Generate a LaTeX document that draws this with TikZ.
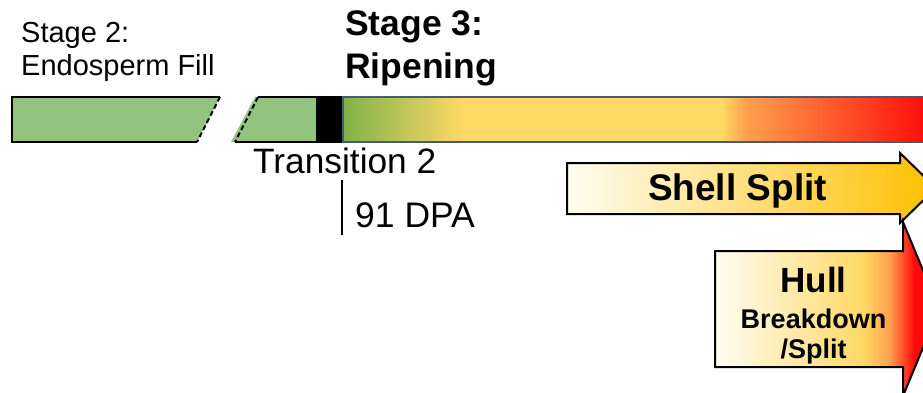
\documentclass[tikz,border=0pt]{standalone}
\usepackage{fontspec}
\setmainfont{Liberation Sans}
\definecolor{leaf}{HTML}{93C47F}
\definecolor{ripegreen}{HTML}{7FB24A}
\definecolor{ripeyellow}{HTML}{FFD966}
\definecolor{ripeorange}{HTML}{FFA04C}
\definecolor{ripered}{HTML}{FF0A0A}
\definecolor{gold}{HTML}{FFC000}
\definecolor{slate}{HTML}{4A5A70}
\definecolor{cream}{HTML}{FFFDF4}

% colour runs of the ripening bar and the hull arrow (middle 50bp spans the path)
\pgfdeclarehorizontalshading{ripen}{100bp}{color(0bp)=(ripegreen); color(25bp)=(ripegreen);
  color(35.3bp)=(ripeyellow); color(57.2bp)=(ripeyellow); color(59.3bp)=(ripeorange);
  color(75bp)=(ripered); color(100bp)=(ripered)}
\pgfdeclarehorizontalshading{hullrun}{100bp}{color(0bp)=(cream); color(25bp)=(cream);
  color(58bp)=(ripeyellow); color(64bp)=(ripeorange); color(69.5bp)=(ripered);
  color(75bp)=(ripered); color(100bp)=(ripered)}

\tikzset{
  px/.style={x=1pt,y=-1pt},
  barline/.style={line width=2pt,draw=black,line join=miter},
  cutline/.style={line width=2pt,draw=black,dash pattern=on 5pt off 3pt},
  label/.style={inner sep=0pt,anchor=base west},
  arrowbody/.style={line width=2pt,draw=black,line join=miter},
}
\newcommand{\fsz}[1]{\fontsize{#1}{#1}\selectfont}

\begin{document}
\begin{tikzpicture}[px]
\useasboundingbox (0,0) rectangle (923,392);
\clip (0,0) rectangle (923,392);

% stage 2 bar, cut on its right
\fill[leaf] (12,97) -- (220,97) -- (197,142) -- (12,142) -- cycle;
\draw[barline] (220,97) -- (12,97) -- (12,142) -- (197,142);
\draw[cutline] (220,97) -- (197,142);

% second piece of the stage 2 bar, cut on its left
\fill[leaf] (255,97) -- (317,97) -- (317,142) -- (231,142) -- cycle;
\draw[barline] (258,97) -- (317,97);
\draw[barline] (235,142) -- (317,142);
\draw[cutline] (258,97) -- (235,142);

% transition marker
\fill[black] (316,96) rectangle (343,143);

% ripening bar
\shade[shading=ripen] (343,97) rectangle (930,142);
\draw[slate,line width=1.8pt] (343,97) rectangle (930,142);

% texts above and below the bar
\node[label] (s2a) at (21,42) {\fsz{29}Stage 2:};
\node[label] (s2b) at (21,75) {\fsz{29}Endosperm Fill};
\node[label] (s3a) at (345,35) {\fsz{35.5}\bfseries Stage 3:};
\node[label] (s3b) at (345,78) {\fsz{35.5}\bfseries Ripening};
\node[label] (tr) at (253,173) {\fsz{35.3}Transition 2};
\coordinate (tickT) at (342,180);
\coordinate (tickB) at (342,235);
\draw[line width=1.6pt] (tickT) -- (tickB);
\node[label] (dpa) at (355,227) {\fsz{35.5}91 DPA};

% shell split arrow
\shade[left color=cream,right color=gold,arrowbody]
  (567,163) -- (900,163) -- (900,153) -- (936,188) -- (900,223) -- (900,214) -- (567,214) -- cycle;
\node[inner sep=0pt,anchor=base] (shell) at (737.5,200) {\fsz{37}\bfseries Shell Split};

% hull breakdown arrow
\shade[shading=hullrun,arrowbody]
  (715,251) -- (903,251) -- (903,222) -- (939,309) -- (903,396) -- (903,367) -- (715,367) -- cycle;
\node[inner sep=0pt,anchor=base] (hullA) at (813.5,292) {\fsz{35}\bfseries Hull};
\node[inner sep=0pt,anchor=base] (hullB) at (813.5,328) {\fsz{27}\bfseries Breakdown};
\node[inner sep=0pt,anchor=base] (hullC) at (813.5,358) {\fsz{27}\bfseries /Split};
\end{tikzpicture}
\end{document}
